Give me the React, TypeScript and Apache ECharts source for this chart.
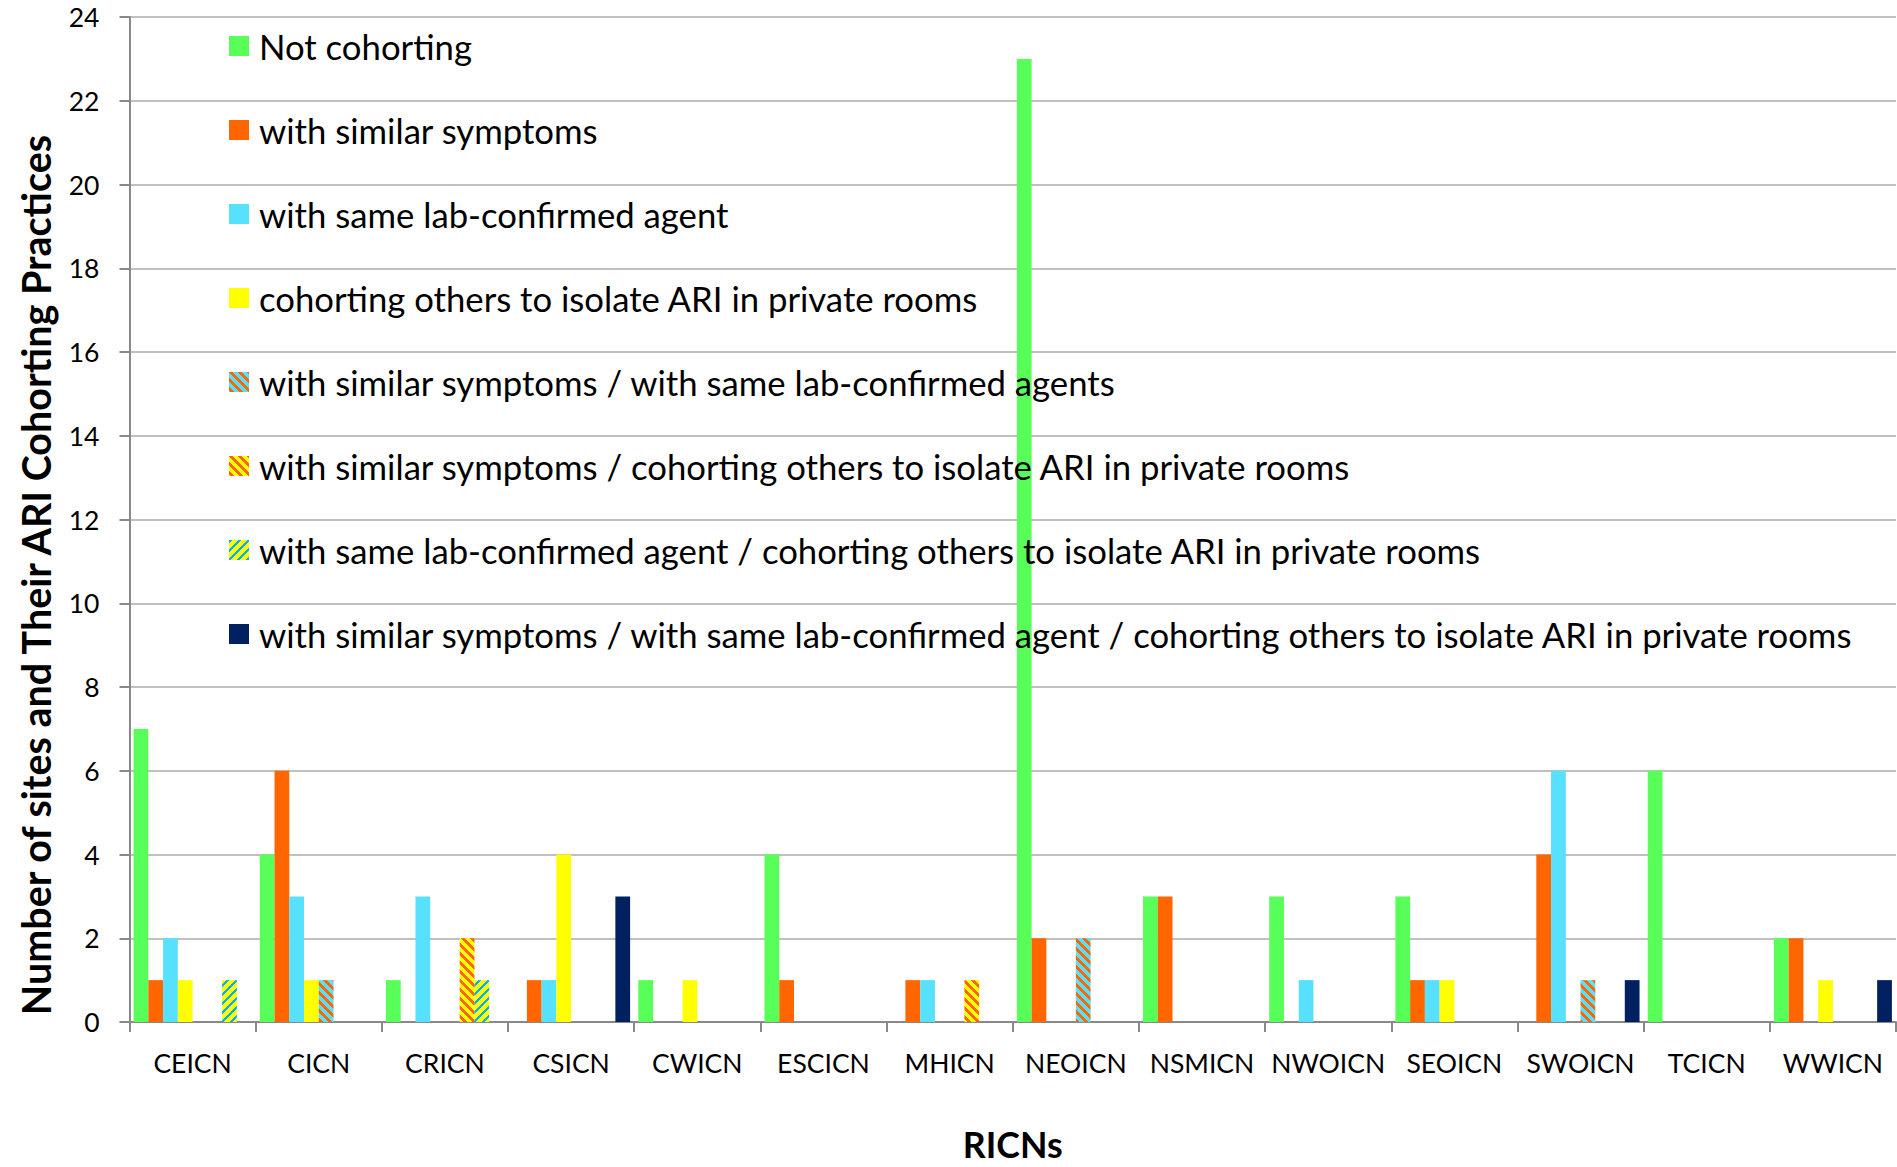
import React, { useEffect, useRef } from "react";
import * as echarts from "echarts";

const categories = ["CEICN", "CICN", "CRICN", "CSICN", "CWICN", "ESCICN", "MHICN", "NEOICN", "NSMICN", "NWOICN", "SEOICN", "SWOICN", "TCICN", "WWICN"];

const seriesNames = [
  "Not cohorting",
  "with similar symptoms",
  "with same lab-confirmed agent",
  "cohorting others to isolate ARI in private rooms",
  "with similar symptoms / with same lab-confirmed agents",
  "with similar symptoms / cohorting others to isolate ARI in private rooms",
  "with same lab-confirmed agent / cohorting others to isolate ARI in private rooms",
  "with similar symptoms / with same lab-confirmed agent / cohorting others to isolate ARI in private rooms",
];

const notCohorting = [7, 4, 1, 0, 1, 4, 0, 23, 3, 3, 3, 0, 6, 2];
const similarSymptoms = [1, 6, 0, 1, 0, 1, 1, 2, 3, 0, 1, 4, 0, 2];
const sameLabAgent = [2, 3, 3, 1, 0, 0, 1, 0, 0, 1, 1, 6, 0, 0];
const isolateOthers = [1, 1, 0, 4, 1, 0, 0, 0, 0, 0, 1, 0, 0, 1];
const symptomsLab = [0, 1, 0, 0, 0, 0, 0, 2, 0, 0, 0, 1, 0, 0];
const symptomsIsolate = [0, 0, 2, 0, 0, 0, 1, 0, 0, 0, 0, 0, 0, 0];
const labIsolate = [1, 0, 1, 0, 0, 0, 0, 0, 0, 0, 0, 0, 0, 0];
const allThree = [0, 0, 0, 3, 0, 0, 0, 0, 0, 0, 0, 1, 0, 1];

const yMin = 0;
const yMax = 24;
const yInterval = 2;

const xTitle = "RICNs";
const yTitle = "Number of sites and Their ARI Cohorting Practices";

const GREEN = "#59FF59";
const ORANGE = "#FF6600";
const CYAN = "#58E0FF";
const YELLOW = "#FFFF00";
const NAVY = "#002060";
const BLUE = "#00B0F0";

const FAMILY = "Lato, 'Liberation Sans', sans-serif";

function fit(text: string, weight: string, target: number): number {
  const ctx = document.createElement("canvas").getContext("2d");
  if (!ctx) return 30;
  ctx.font = `${weight} 100px Lato`;
  const w = ctx.measureText(text).width;
  return Math.round(((100 * target) / w) * 10) / 10;
}

// diagonal stripe tile; dir 1 = "\" stripes, dir -1 = "/" stripes
function stripe(base: string, line: string, dir: number, thick: number) {
  const period = 9;
  const c = document.createElement("canvas");
  c.width = period;
  c.height = period;
  const ctx = c.getContext("2d")!;
  ctx.fillStyle = base;
  ctx.fillRect(0, 0, period, period);
  ctx.fillStyle = line;
  for (let y = 0; y < period; y++) {
    for (let x = 0; x < period; x++) {
      let d = dir > 0 ? x - y : x + y;
      d = ((d % period) + period) % period;
      if (d < thick) ctx.fillRect(x, y, 1, 1);
    }
  }
  return { image: c, repeat: "repeat" };
}

export default function App() {
  const ref = useRef<HTMLDivElement>(null);
  useEffect(() => {
    document.body.style.margin = "0";
    document.body.style.overflow = "hidden";
    if (!ref.current) return;
    const chart = echarts.init(ref.current, null, { renderer: "svg", width: 1897, height: 1167 });

    const legendFont = fit(seriesNames[7], "normal", 1597);
    const catFont = fit("NWOICN", "normal", 114);
    const xNameFont = fit(xTitle, "bold", 100);
    const yNameFont = fit(yTitle, "bold", 885);

    const values = [notCohorting, similarSymptoms, sameLabAgent, isolateOthers, symptomsLab, symptomsIsolate, labIsolate, allThree];
    const colors: any[] = [
      GREEN,
      ORANGE,
      CYAN,
      YELLOW,
      stripe(CYAN, ORANGE, 1, 4),
      stripe(YELLOW, ORANGE, 1, 4),
      stripe(YELLOW, BLUE, -1, 3),
      NAVY,
    ];

    chart.setOption({
      animation: false,
      backgroundColor: "#ffffff",
      textStyle: { fontFamily: FAMILY },
      grid: { left: 129.5, right: 1, top: 17, bottom: 140, containLabel: false },
      legend: {
        orient: "vertical",
        left: 229,
        top: 26,
        padding: 0,
        itemGap: 44,
        itemWidth: 20,
        itemHeight: 20,
        icon: "rect",
        selectedMode: false,
        textStyle: { fontSize: legendFont, color: "#000", lineHeight: 40, padding: [0, 0, 0, 5], fontFamily: FAMILY },
        data: seriesNames,
      },
      xAxis: {
        type: "category",
        data: categories,
        name: xTitle,
        nameLocation: "middle",
        nameGap: 104,
        nameTextStyle: { fontSize: xNameFont, fontWeight: "bold", color: "#000", fontFamily: FAMILY },
        axisLine: { show: true, lineStyle: { color: "#898989", width: 2 } },
        axisTick: { show: true, length: 10, interval: 0, lineStyle: { color: "#898989", width: 2 } },
        axisLabel: { interval: 0, margin: 27, fontSize: catFont, color: "#000", fontFamily: FAMILY },
      },
      yAxis: {
        type: "value",
        min: yMin,
        max: yMax,
        interval: yInterval,
        axisLine: { show: true, lineStyle: { color: "#898989", width: 2 } },
        axisTick: { show: true, length: 10, lineStyle: { color: "#898989", width: 2 } },
        axisLabel: { margin: 30, fontSize: catFont, color: "#000", fontFamily: FAMILY },
        splitLine: { show: true, lineStyle: { color: "#C0C0C0", width: 2 } },
      },
      graphic: [
        {
          type: "text",
          x: 35,
          y: 575,
          rotation: Math.PI / 2,
          style: {
            text: yTitle,
            fill: "#000",
            fontSize: yNameFont,
            fontWeight: "bold",
            fontFamily: FAMILY,
            align: "center",
            verticalAlign: "middle",
            textAlign: "center",
            textVerticalAlign: "middle",
          },
        },
      ],
      series: values.map((v, i) => ({
        name: seriesNames[i],
        type: "bar",
        data: v,
        barGap: "0%",
        barCategoryGap: "6.5%",
        itemStyle: { color: colors[i] },
      })),
    });
    return () => chart.dispose();
  }, []);
  return <div ref={ref} style={{ width: 1897, height: 1167 }} />;
}
